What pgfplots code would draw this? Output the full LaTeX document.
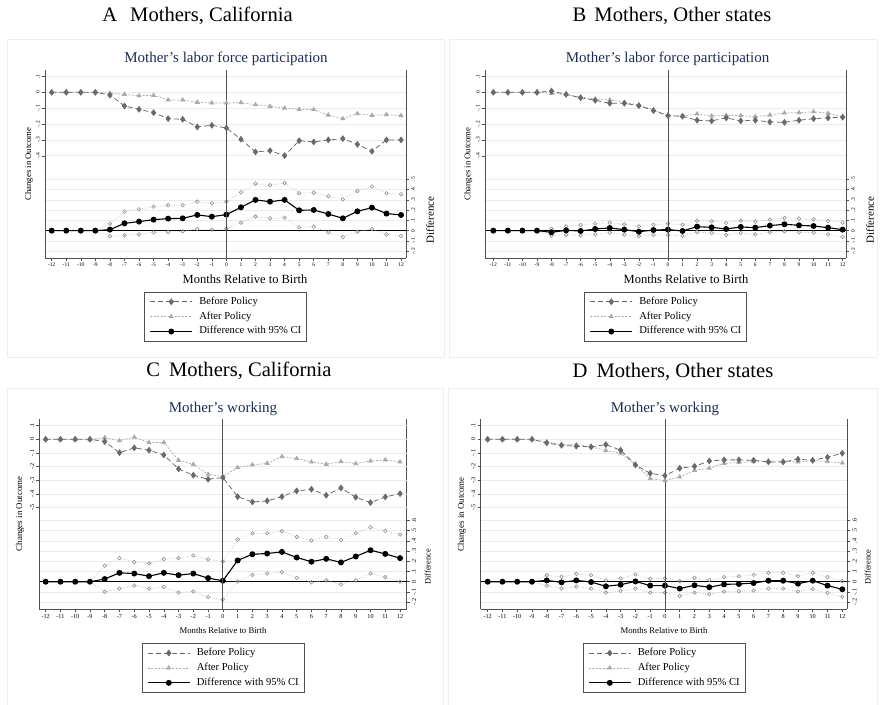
\documentclass[border=0pt]{standalone}
\usepackage{fontspec}
\setmainfont{Liberation Serif}
\usepackage{pgfplots}
\usepackage{pgfplotstable}
\pgfplotsset{compat=1.18}
\definecolor{axcol}{HTML}{505050}
\definecolor{gridcol}{HTML}{EBEBEB}
\definecolor{bcol}{HTML}{6A6A6A}
\definecolor{acol}{HTML}{AAAAAA}
\definecolor{cicol}{HTML}{8C8C8C}
\definecolor{cilcol}{HTML}{BDBDBD}
\definecolor{ttl}{HTML}{1E2D55}
\definecolor{frm}{HTML}{EEEEEE}

\pgfplotstableread{
m before after diff hi lo
-12 0 0 0 0 0
-11 0 0 0 0 0
-10 0 0 0 0 0
-9 0 0 0 0 0
-8 -0.017 -0.006 0.010 0.068 -0.055
-7 -0.086 -0.013 0.071 0.185 -0.045
-6 -0.107 -0.021 0.088 0.208 -0.036
-5 -0.128 -0.019 0.107 0.234 -0.016
-4 -0.166 -0.048 0.117 0.247 -0.013
-3 -0.170 -0.048 0.120 0.247 -0.006
-2 -0.218 -0.063 0.153 0.282 0.016
-1 -0.208 -0.067 0.136 0.266 0.010
0 -0.225 -0.067 0.156 0.282 0.019
1 -0.296 -0.065 0.227 0.373 0.078
2 -0.376 -0.078 0.299 0.458 0.136
3 -0.368 -0.088 0.282 0.442 0.120
4 -0.399 -0.099 0.299 0.464 0.127
5 -0.305 -0.107 0.198 0.364 0.032
6 -0.313 -0.109 0.201 0.370 0.039
7 -0.300 -0.143 0.162 0.334 -0.016
8 -0.292 -0.166 0.120 0.305 -0.062
9 -0.328 -0.134 0.188 0.386 -0.010
10 -0.372 -0.145 0.224 0.429 0.016
11 -0.300 -0.141 0.166 0.364 -0.036
12 -0.300 -0.147 0.153 0.354 -0.052
}\tA

\pgfplotstableread{
m before after diff hi lo
-12 0 0 0 0 0
-11 0 0 0 0 0
-10 0 0 0 0 0
-9 0 0 0 0 0
-8 0.008 -0.006 -0.016 0.019 -0.049
-7 -0.013 -0.013 0.003 0.042 -0.039
-6 -0.034 -0.031 -0.003 0.055 -0.045
-5 -0.050 -0.042 0.016 0.068 -0.036
-4 -0.069 -0.048 0.026 0.078 -0.019
-3 -0.069 -0.063 0.010 0.062 -0.039
-2 -0.084 -0.080 -0.010 0.042 -0.055
-1 -0.115 -0.111 0.006 0.058 -0.042
0 -0.147 -0.145 0.010 0.068 -0.042
1 -0.151 -0.151 -0.003 0.058 -0.052
2 -0.176 -0.136 0.039 0.097 -0.013
3 -0.180 -0.149 0.032 0.091 -0.023
4 -0.161 -0.145 0.016 0.075 -0.042
5 -0.180 -0.147 0.036 0.097 -0.023
6 -0.176 -0.153 0.029 0.088 -0.036
7 -0.187 -0.143 0.049 0.107 -0.016
8 -0.189 -0.130 0.062 0.123 -0.006
9 -0.176 -0.128 0.052 0.117 -0.016
10 -0.166 -0.122 0.045 0.110 -0.019
11 -0.161 -0.132 0.029 0.094 -0.036
12 -0.157 -0.153 0.010 0.078 -0.062
}\tB

\pgfplotstableread{
m before after diff hi lo
-12 0 0 0 0 0
-11 0 0 0 0 0
-10 0 0 0 0 0
-9 0 0 0 0 0
-8 -0.017 0.012 0.026 0.157 -0.099
-7 -0.098 -0.010 0.087 0.231 -0.067
-6 -0.063 0.015 0.080 0.192 -0.038
-5 -0.080 -0.024 0.054 0.179 -0.067
-4 -0.115 -0.024 0.087 0.221 -0.051
-3 -0.217 -0.154 0.064 0.231 -0.106
-2 -0.263 -0.183 0.080 0.256 -0.096
-1 -0.293 -0.256 0.035 0.218 -0.151
0 -0.280 -0.273 0.010 0.199 -0.176
1 -0.420 -0.207 0.208 0.413 0.003
2 -0.459 -0.188 0.269 0.474 0.067
3 -0.451 -0.176 0.276 0.474 0.080
4 -0.420 -0.127 0.292 0.494 0.093
5 -0.378 -0.141 0.237 0.439 0.038
6 -0.366 -0.166 0.196 0.404 -0.006
7 -0.410 -0.183 0.224 0.439 0.013
8 -0.356 -0.163 0.189 0.407 -0.026
9 -0.424 -0.178 0.247 0.474 0.013
10 -0.463 -0.159 0.308 0.532 0.080
11 -0.422 -0.151 0.272 0.497 0.045
12 -0.398 -0.166 0.231 0.462 0.000
}\tC

\pgfplotstableread{
m before after diff hi lo
-12 0 0 0 0 0
-11 0 0 0 0 0
-10 0 0 0 0 0
-9 0 0 0 0 0
-8 -0.027 -0.020 0.013 0.064 -0.038
-7 -0.044 -0.041 -0.006 0.048 -0.067
-6 -0.051 -0.039 0.013 0.077 -0.048
-5 -0.056 -0.054 -0.003 0.064 -0.067
-4 -0.039 -0.083 -0.045 0.013 -0.106
-3 -0.080 -0.102 -0.029 0.032 -0.090
-2 -0.188 -0.185 0.003 0.071 -0.067
-1 -0.249 -0.288 -0.038 0.029 -0.106
0 -0.266 -0.302 -0.038 0.032 -0.106
1 -0.212 -0.276 -0.067 0.006 -0.138
2 -0.198 -0.227 -0.035 0.038 -0.106
3 -0.159 -0.212 -0.054 0.016 -0.122
4 -0.151 -0.176 -0.026 0.045 -0.096
5 -0.151 -0.171 -0.022 0.054 -0.093
6 -0.154 -0.163 -0.013 0.067 -0.087
7 -0.166 -0.159 0.010 0.087 -0.067
8 -0.166 -0.161 0.010 0.087 -0.067
9 -0.146 -0.166 -0.019 0.054 -0.096
10 -0.154 -0.156 0.010 0.087 -0.071
11 -0.132 -0.163 -0.038 0.045 -0.109
12 -0.102 -0.173 -0.074 0.006 -0.147
}\tD

\pgfplotsset{
  common/.style={
    scale only axis, clip=false,
    axis line style={color=axcol, line width=0.6pt},
    every tick/.style={color=axcol, line width=0.5pt},
    tick align=outside, major tick length=3pt,
    ymajorgrids, major grid style={color=gridcol, line width=0.6pt},
  },
  leftax/.style={common,
    axis x line*=bottom, axis y line*=left,
    xtick pos=bottom, ytick pos=left,
    xtick={-12,-11,...,12},
    xticklabels={-12,-11,-10,-9,-8,-7,-6,-5,-4,-3,-2,-1,0,1,2,3,4,5,6,7,8,9,10,11,12},
    xticklabel style={inner sep=2pt},
    yticklabel style={rotate=90, anchor=south, inner sep=2pt},
    legend cell align=left,
    legend image code/.code={\draw[mark repeat=2,mark phase=2,##1] plot coordinates {(0pt,0pt) (21pt,0pt) (42pt,0pt)};},
    legend style={anchor=north, draw=axcol, line width=0.5pt,
      font=\fontsize{10.6}{12.5}\selectfont, inner xsep=5pt, inner ysep=5pt,
      column sep=6.5pt, row sep=5.2pt,
      nodes={inner sep=0pt, text height=7.3pt, text depth=2.4pt}},
  },
  rightax/.style={common,
    hide x axis,
    ytick pos=right, yticklabel pos=right,
    yticklabel style={rotate=90, anchor=north, inner sep=2pt},
  },
  topleft/.style={leftax, ymin=-1.045, ymax=0.141,
    ytick={-0.4,-0.3,-0.2,-0.1,0,0.1}, yticklabels={-.4,-.3,-.2,-.1,0,.1},
    ticklabel style={font=\fontsize{5.5}{6}\selectfont},
    legend style={at={(0.5,-0.179)}}},
  topright/.style={rightax, ymin=-0.266, ymax=1.563,
    ytick={-0.2,-0.1,0,0.1,0.2,0.3,0.4,0.5}, yticklabels={-.2,-.1,0,.1,.2,.3,.4,.5},
    ticklabel style={font=\fontsize{5.5}{6}\selectfont}},
  botleft/.style={leftax, ymin=-1.244, ymax=0.146,
    ytick={-0.5,-0.4,-0.3,-0.2,-0.1,0,0.1}, yticklabels={-.5,-.4,-.3,-.2,-.1,0,.1},
    ticklabel style={font=\fontsize{6.2}{7}\selectfont},
    legend style={at={(0.5,-0.177)}}},
  botright/.style={rightax, ymin=-0.27, ymax=1.59,
    ytick={-0.2,-0.1,0,0.1,0.2,0.3,0.4,0.5,0.6}, yticklabels={-.2,-.1,0,.1,.2,.3,.4,.5,.6},
    ticklabel style={font=\fontsize{6.2}{7}\selectfont}},
  bst/.style={bcol, line width=0.8pt, dash pattern=on 5pt off 3pt, mark=diamond*, mark size=2.8pt, mark options={solid, fill=bcol, draw=bcol}},
  ast/.style={acol, line width=0.7pt, dash pattern=on 2pt off 1.5pt, mark=triangle*, mark size=2.3pt, mark options={solid, fill=acol, draw=acol}},
  dst/.style={black, line width=1.1pt, mark=*, mark size=2.4pt, mark options={solid, fill=black}},
  cist/.style={cilcol, line width=0.7pt, dash pattern=on 0.7pt off 1.6pt, mark=o, mark size=1.8pt, mark options={solid, draw=cicol, line width=0.55pt, fill=white}},
}

\newcommand\leftplots[1]{%
  \addplot[forget plot, ast] table[x=m,y=after]{#1};
  \addplot[forget plot, bst] table[x=m,y=before]{#1};
  \addlegendimage{bst}\addlegendentry{Before Policy}
  \addlegendimage{ast}\addlegendentry{After Policy}
  \addlegendimage{dst}\addlegendentry{Difference with 95\% CI\hspace{17pt}}
}
\newcommand\rightplots[1]{%
  \draw[black, line width=0.7pt] ({rel axis cs:0,0}|-{axis cs:0,0}) -- ({rel axis cs:1,0}|-{axis cs:0,0});
  \addplot[cist] table[x=m,y=hi]{#1};
  \addplot[cist] table[x=m,y=lo]{#1};
  \addplot[dst] table[x=m,y=diff]{#1};
}

\begin{document}
\begin{tikzpicture}[x=1pt,y=1pt]
\path[use as bounding box] (0pt,0pt) rectangle (880pt,704pt);
% panel frames
\draw[frm, line width=0.8pt] (7pt,347pt) rectangle (444pt,665pt);
\draw[frm, line width=0.8pt] (449pt,347pt) rectangle (877pt,665pt);
\draw[frm, line width=0.8pt] (7pt,-2pt) rectangle (443pt,316pt);
\draw[frm, line width=0.8pt] (448pt,-2pt) rectangle (877pt,316pt);

% ---------- Panel A ----------
\begin{axis}[topright, at={(45pt,446pt)}, anchor=south west, width=361pt, height=188pt, xmin=-12.46, xmax=12.34]
\rightplots{\tA}
\end{axis}
\begin{axis}[topleft, at={(45pt,446pt)}, anchor=south west, width=361pt, height=188pt, xmin=-12.46, xmax=12.34]
\leftplots{\tA}
\draw[axcol, line width=0.8pt] (axis cs:0,-1.045) -- (axis cs:0,0.141);
\end{axis}

% ---------- Panel B ----------
\begin{axis}[topright, at={(485pt,446pt)}, anchor=south west, width=361pt, height=188pt, xmin=-12.57, xmax=12.23]
\rightplots{\tB}
\end{axis}
\begin{axis}[topleft, at={(485pt,446pt)}, anchor=south west, width=361pt, height=188pt, xmin=-12.57, xmax=12.23]
\leftplots{\tB}
\draw[axcol, line width=0.8pt] (axis cs:0,-1.045) -- (axis cs:0,0.141);
\end{axis}

% ---------- Panel C ----------
\begin{axis}[botright, at={(39.3pt,94.7pt)}, anchor=south west, width=367.4pt, height=190pt, xmin=-12.43, xmax=12.45]
\rightplots{\tC}
\end{axis}
\begin{axis}[botleft, at={(39.3pt,94.7pt)}, anchor=south west, width=367.4pt, height=190pt, xmin=-12.43, xmax=12.45]
\leftplots{\tC}
\draw[axcol, line width=0.8pt] (axis cs:0,-1.244) -- (axis cs:0,0.146);
\end{axis}

% ---------- Panel D ----------
\begin{axis}[botright, at={(480.7pt,94.7pt)}, anchor=south west, width=366.6pt, height=190pt, xmin=-12.47, xmax=12.34]
\rightplots{\tD}
\end{axis}
\begin{axis}[botleft, at={(480.7pt,94.7pt)}, anchor=south west, width=366.6pt, height=190pt, xmin=-12.47, xmax=12.34]
\leftplots{\tD}
\draw[axcol, line width=0.8pt] (axis cs:0,-1.244) -- (axis cs:0,0.146);
\end{axis}

% captions
\node[font=\fontsize{20.6}{24}\selectfont, inner sep=0pt] at (197.5pt,688pt) {A\hspace{13pt}Mothers, California};
\node[font=\fontsize{20.6}{24}\selectfont, inner sep=0pt] at (672pt,688pt) {B\hspace{8pt}Mothers, Other states};
\node[font=\fontsize{20.6}{24}\selectfont, inner sep=0pt] at (239pt,333.5pt) {C\hspace{9pt}Mothers, California};
\node[font=\fontsize{20.6}{24}\selectfont, inner sep=0pt] at (673pt,332.5pt) {D\hspace{9pt}Mothers, Other states};
% titles
\node[font=\fontsize{15}{18}\selectfont, text=ttl, inner sep=0pt] at (226pt,644.7pt) {Mother's labor force participation};
\node[font=\fontsize{15}{18}\selectfont, text=ttl, inner sep=0pt] at (667.6pt,644.7pt) {Mother's labor force participation};
\node[font=\fontsize{15}{18}\selectfont, text=ttl, inner sep=0pt] at (223pt,295pt) {Mother's working};
\node[font=\fontsize{15}{18}\selectfont, text=ttl, inner sep=0pt] at (665pt,295pt) {Mother's working};
% y labels
\node[font=\fontsize{8.7}{10}\selectfont, rotate=90, inner sep=0pt] at (29pt,540pt) {Changes in Outcome};
\node[font=\fontsize{8.7}{10}\selectfont, rotate=90, inner sep=0pt] at (468.3pt,540pt) {Changes in Outcome};
\node[font=\fontsize{8.9}{10}\selectfont, rotate=90, inner sep=0pt] at (20pt,190pt) {Changes in Outcome};
\node[font=\fontsize{8.9}{10}\selectfont, rotate=90, inner sep=0pt] at (461.7pt,189.5pt) {Changes in Outcome};
\node[font=\fontsize{10.9}{12}\selectfont, rotate=90, inner sep=0pt] at (430pt,484pt) {Difference};
\node[font=\fontsize{10.9}{12}\selectfont, rotate=90, inner sep=0pt] at (870pt,484pt) {Difference};
\node[font=\fontsize{8.3}{10}\selectfont, rotate=90, inner sep=0pt] at (427.7pt,137.3pt) {Difference};
\node[font=\fontsize{8.3}{10}\selectfont, rotate=90, inner sep=0pt] at (867.7pt,137pt) {Difference};
% x labels
\node[font=\fontsize{12.5}{14}\selectfont, inner sep=0pt] at (245pt,425pt) {Months Relative to Birth};
\node[font=\fontsize{12.5}{14}\selectfont, inner sep=0pt] at (686pt,425pt) {Months Relative to Birth};
\node[font=\fontsize{8.7}{10}\selectfont, inner sep=0pt] at (223pt,73.3pt) {Months Relative to Birth};
\node[font=\fontsize{8.7}{10}\selectfont, inner sep=0pt] at (664pt,73.3pt) {Months Relative to Birth};
\end{tikzpicture}
\end{document}
